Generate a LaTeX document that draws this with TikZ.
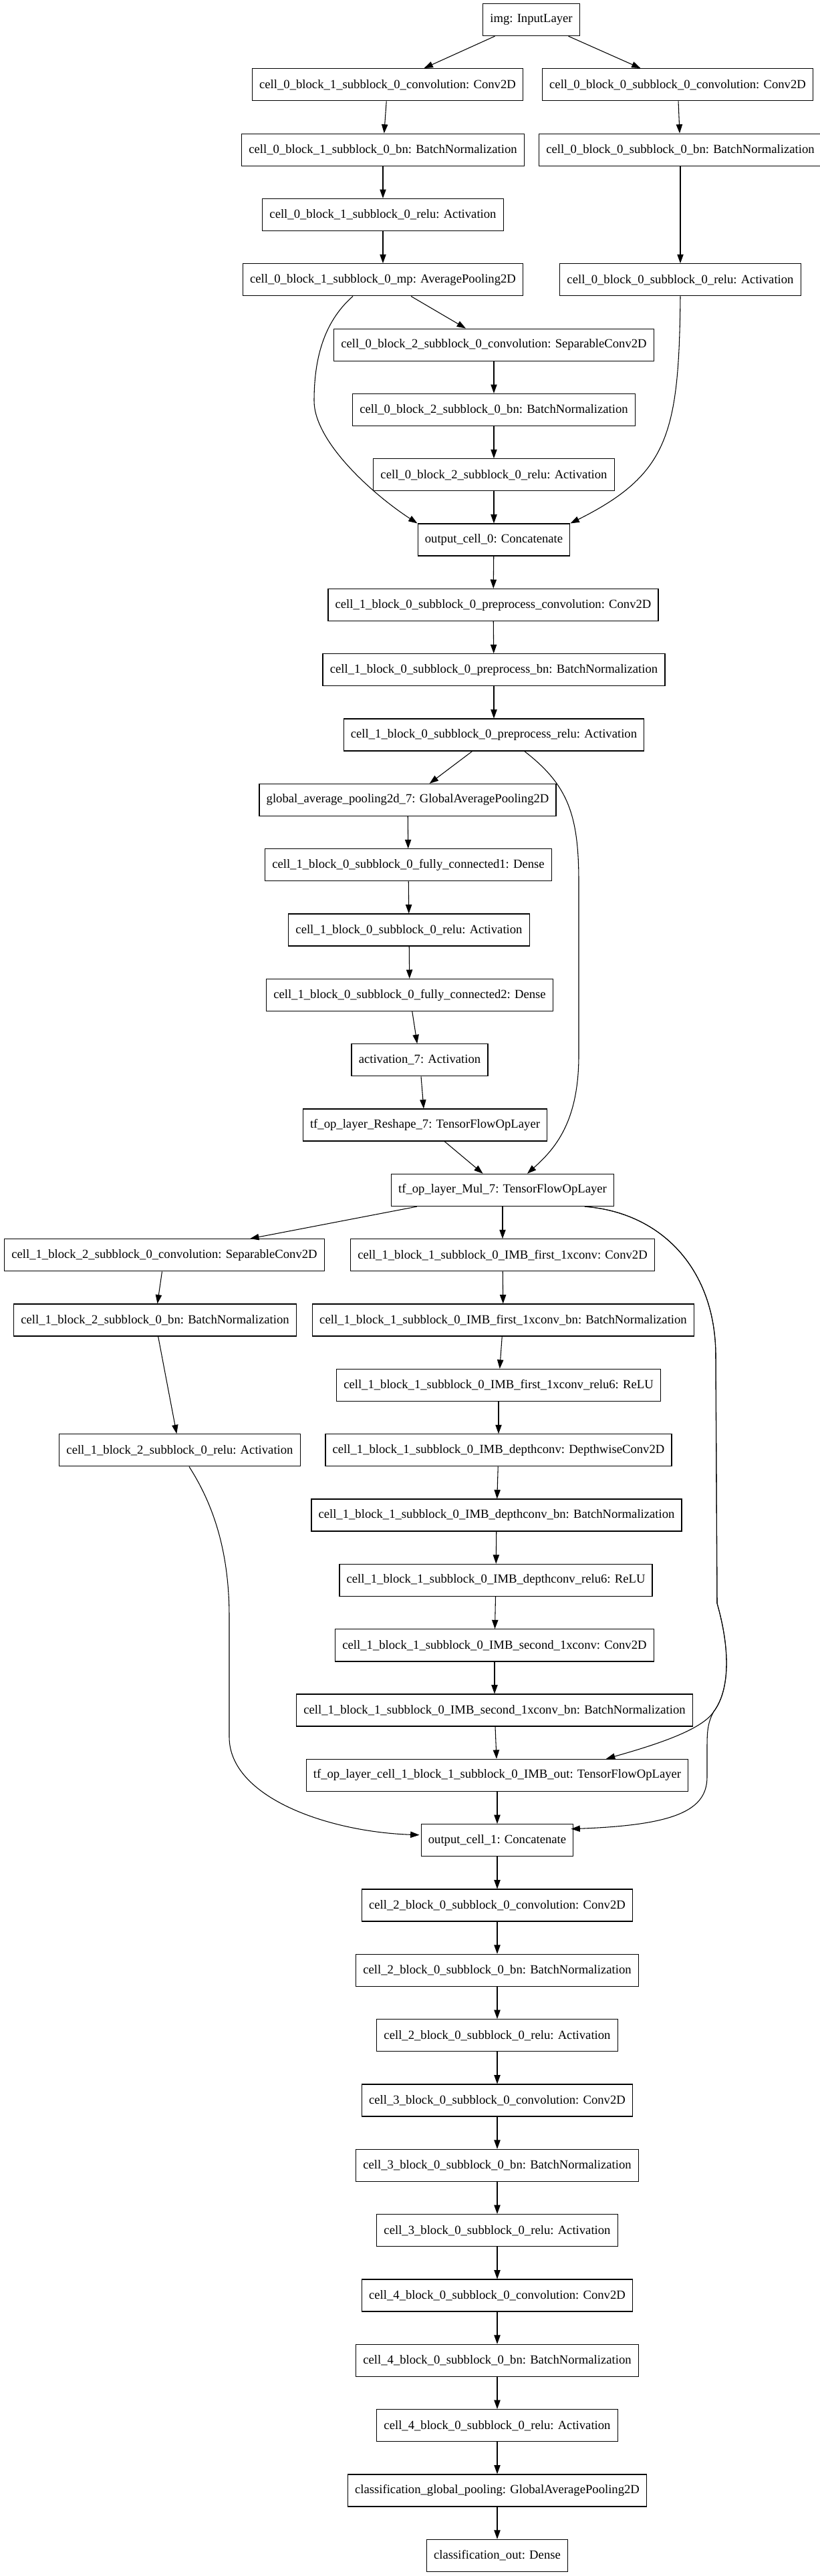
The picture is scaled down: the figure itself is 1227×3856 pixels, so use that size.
\documentclass[tikz,border=0pt]{standalone}
\usepackage{fontspec}
\setmainfont{Liberation Serif}
\usepackage{tikz}
\usetikzlibrary{arrows.meta,calc}
\tikzset{
  kbox/.style={draw,line width=1pt,minimum height=36pt,inner xsep=8pt,inner ysep=0pt,
    font=\fontsize{14}{16}\selectfont},
  flow/.style={line width=0.8pt,-{Triangle[length=10pt,width=7pt]}}
}
\begin{document}
\begin{tikzpicture}[x=0.75pt,y=-0.75pt]
  \useasboundingbox (0,0) rectangle (1227,3856);
  % cell 0
  \node[kbox] (img) at (795,29.5) {img: InputLayer};
  \node[kbox] (c01conv) at (580,126.8) {cell\_0\_block\_1\_subblock\_0\_convolution: Conv2D};
  \node[kbox] (c00conv) at (1014,126.8) {cell\_0\_block\_0\_subblock\_0\_convolution: Conv2D};
  \node[kbox] (c01bn) at (573,224.2) {cell\_0\_block\_1\_subblock\_0\_bn: BatchNormalization};
  \node[kbox] (c00bn) at (1018,224.2) {cell\_0\_block\_0\_subblock\_0\_bn: BatchNormalization};
  \node[kbox] (c01relu) at (573,321.5) {cell\_0\_block\_1\_subblock\_0\_relu: Activation};
  \node[kbox] (c01mp) at (573,418.8) {cell\_0\_block\_1\_subblock\_0\_mp: AveragePooling2D};
  \node[kbox] (c00relu) at (1018,418.8) {cell\_0\_block\_0\_subblock\_0\_relu: Activation};
  \node[kbox] (c02conv) at (739,516.2) {cell\_0\_block\_2\_subblock\_0\_convolution: SeparableConv2D};
  \node[kbox] (c02bn) at (739,613.5) {cell\_0\_block\_2\_subblock\_0\_bn: BatchNormalization};
  \node[kbox] (c02relu) at (739,710.8) {cell\_0\_block\_2\_subblock\_0\_relu: Activation};
  \node[kbox] (out0) at (739,808.1) {output\_cell\_0: Concatenate};
  % cell 1
  \node[kbox] (c1pconv) at (738,905.5) {cell\_1\_block\_0\_subblock\_0\_preprocess\_convolution: Conv2D};
  \node[kbox] (c1pbn) at (739,1002.8) {cell\_1\_block\_0\_subblock\_0\_preprocess\_bn: BatchNormalization};
  \node[kbox] (c1prelu) at (739,1100.1) {cell\_1\_block\_0\_subblock\_0\_preprocess\_relu: Activation};
  \node[kbox] (gap) at (610,1197.5) {global\_average\_pooling2d\_7: GlobalAveragePooling2D};
  \node[kbox] (fc1) at (611,1294.8) {cell\_1\_block\_0\_subblock\_0\_fully\_connected1: Dense};
  \node[kbox] (c1relu) at (612,1392.1) {cell\_1\_block\_0\_subblock\_0\_relu: Activation};
  \node[kbox] (fc2) at (613,1489.5) {cell\_1\_block\_0\_subblock\_0\_fully\_connected2: Dense};
  \node[kbox] (act7) at (628,1586.8) {activation\_7: Activation};
  \node[kbox] (resh) at (636,1684.1) {tf\_op\_layer\_Reshape\_7: TensorFlowOpLayer};
  \node[kbox] (mul) at (752,1781.4) {tf\_op\_layer\_Mul\_7: TensorFlowOpLayer};
  \node[kbox] (c12conv) at (246,1878.8) {cell\_1\_block\_2\_subblock\_0\_convolution: SeparableConv2D};
  \node[kbox] (first) at (752,1878.8) {cell\_1\_block\_1\_subblock\_0\_IMB\_first\_1xconv: Conv2D};
  \node[kbox] (c12bn) at (232,1976.1) {cell\_1\_block\_2\_subblock\_0\_bn: BatchNormalization};
  \node[kbox] (firstbn) at (753,1976.1) {cell\_1\_block\_1\_subblock\_0\_IMB\_first\_1xconv\_bn: BatchNormalization};
  \node[kbox] (firstrelu) at (746,2073.4) {cell\_1\_block\_1\_subblock\_0\_IMB\_first\_1xconv\_relu6: ReLU};
  \node[kbox] (c12relu) at (269,2170.8) {cell\_1\_block\_2\_subblock\_0\_relu: Activation};
  \node[kbox] (depth) at (746,2170.8) {cell\_1\_block\_1\_subblock\_0\_IMB\_depthconv: DepthwiseConv2D};
  \node[kbox] (depthbn) at (743,2268.1) {cell\_1\_block\_1\_subblock\_0\_IMB\_depthconv\_bn: BatchNormalization};
  \node[kbox] (depthrelu) at (742,2365.4) {cell\_1\_block\_1\_subblock\_0\_IMB\_depthconv\_relu6: ReLU};
  \node[kbox] (second) at (740,2462.8) {cell\_1\_block\_1\_subblock\_0\_IMB\_second\_1xconv: Conv2D};
  \node[kbox] (secondbn) at (740,2560.1) {cell\_1\_block\_1\_subblock\_0\_IMB\_second\_1xconv\_bn: BatchNormalization};
  \node[kbox] (imbout) at (744,2657.4) {tf\_op\_layer\_cell\_1\_block\_1\_subblock\_0\_IMB\_out: TensorFlowOpLayer};
  \node[kbox] (out1) at (744,2754.7) {output\_cell\_1: Concatenate};
  % cells 2 to 4 and head
  \node[kbox] (c2conv) at (744,2852.1) {cell\_2\_block\_0\_subblock\_0\_convolution: Conv2D};
  \node[kbox] (c2bn) at (744,2949.4) {cell\_2\_block\_0\_subblock\_0\_bn: BatchNormalization};
  \node[kbox] (c2relu) at (744,3046.7) {cell\_2\_block\_0\_subblock\_0\_relu: Activation};
  \node[kbox] (c3conv) at (744,3144.1) {cell\_3\_block\_0\_subblock\_0\_convolution: Conv2D};
  \node[kbox] (c3bn) at (744,3241.4) {cell\_3\_block\_0\_subblock\_0\_bn: BatchNormalization};
  \node[kbox] (c3relu) at (744,3338.7) {cell\_3\_block\_0\_subblock\_0\_relu: Activation};
  \node[kbox] (c4conv) at (744,3436.1) {cell\_4\_block\_0\_subblock\_0\_convolution: Conv2D};
  \node[kbox] (c4bn) at (744,3533.4) {cell\_4\_block\_0\_subblock\_0\_bn: BatchNormalization};
  \node[kbox] (c4relu) at (744,3630.7) {cell\_4\_block\_0\_subblock\_0\_relu: Activation};
  \node[kbox] (clspool) at (744,3728.0) {classification\_global\_pooling: GlobalAveragePooling2D};
  \node[kbox] (clsout) at (744,3825.4) {classification\_out: Dense};

  % straight edges
  \draw[flow] (img) -- (c01conv);
  \draw[flow] (img) -- (c00conv);
  \draw[flow] (c01conv) -- (c01bn);
  \draw[flow] (c01bn) -- (c01relu);
  \draw[flow] (c01relu) -- (c01mp);
  \draw[flow] (c00conv) -- (c00bn);
  \draw[flow] (c00bn) -- (c00relu);
  \draw[flow] (c01mp) -- (c02conv);
  \draw[flow] (c02conv) -- (c02bn);
  \draw[flow] (c02bn) -- (c02relu);
  \draw[flow] (c02relu) -- (out0);
  \draw[flow] (out0) -- (c1pconv);
  \draw[flow] (c1pconv) -- (c1pbn);
  \draw[flow] (c1pbn) -- (c1prelu);
  \draw[flow] (c1prelu) -- (gap);
  \draw[flow] (gap) -- (fc1);
  \draw[flow] (fc1) -- (c1relu);
  \draw[flow] (c1relu) -- (fc2);
  \draw[flow] (fc2) -- (act7);
  \draw[flow] (act7) -- (resh);
  \draw[flow] (resh) -- (mul);
  \draw[flow] (mul) -- (c12conv);
  \draw[flow] (mul) -- (first);
  \draw[flow] (c12conv) -- (c12bn);
  \draw[flow] (c12bn) -- (c12relu);
  \draw[flow] (first) -- (firstbn);
  \draw[flow] (firstbn) -- (firstrelu);
  \draw[flow] (firstrelu) -- (depth);
  \draw[flow] (depth) -- (depthbn);
  \draw[flow] (depthbn) -- (depthrelu);
  \draw[flow] (depthrelu) -- (second);
  \draw[flow] (second) -- (secondbn);
  \draw[flow] (secondbn) -- (imbout);
  \draw[flow] (imbout) -- (out1);
  \draw[flow] (out1) -- (c2conv);
  \draw[flow] (c2conv) -- (c2bn);
  \draw[flow] (c2bn) -- (c2relu);
  \draw[flow] (c2relu) -- (c3conv);
  \draw[flow] (c3conv) -- (c3bn);
  \draw[flow] (c3bn) -- (c3relu);
  \draw[flow] (c3relu) -- (c4conv);
  \draw[flow] (c4conv) -- (c4bn);
  \draw[flow] (c4bn) -- (c4relu);
  \draw[flow] (c4relu) -- (clspool);
  \draw[flow] (clspool) -- (clsout);

  % curved skip edges
  \draw[flow] ($(c01mp.south)+(-45,0)$) .. controls (483,483) and (470,540) .. (470,600)
    .. controls (470,660) and (555,738) .. (out0.north west);
  \draw[flow] (c00relu.south) .. controls (1016,650) and (1000,710) .. (out0.north east);
  \draw[flow] ($(c1prelu.south)+(46,0)$) .. controls (850,1175) and (866,1220) .. (866,1320)
    -- (866,1580) .. controls (866,1680) and (830,1720) .. ($(mul.north)+(37,0)$);
  \draw[flow] ($(mul.south)+(123,0)$) .. controls (990,1815) and (1071,1900) .. (1071,2030)
    -- (1073,2400) .. controls (1093,2470) and (1092,2530) .. (1068,2562)
    .. controls (1050,2590) and (980,2612) .. ($(imbout.north)+(163,0)$);
  \draw[flow] ($(mul.south)+(123,0)$) .. controls (990,1815) and (1071,1900) .. (1071,2030)
    -- (1073,2400) .. controls (1093,2470) and (1092,2530) .. (1068,2562)
    .. controls (1058,2580) and (1058,2595) .. (1058,2620) -- (1058,2660)
    .. controls (1058,2710) and (1010,2732) .. ($(out1.east)+(-4,-17)$);
  \draw[flow] ($(c12relu.south)+(14,0)$) .. controls (318,2250) and (343,2320) .. (343,2420)
    -- (343,2600) .. controls (343,2690) and (490,2742) .. ($(out1.west)+(-2,-8)$);
\end{tikzpicture}
\end{document}
